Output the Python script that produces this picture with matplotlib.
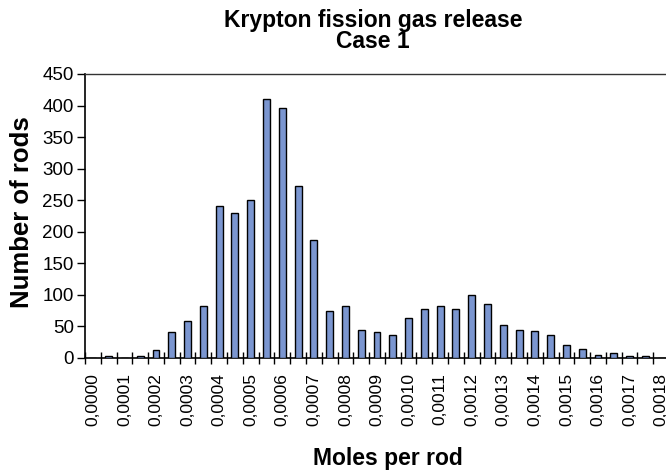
import matplotlib
matplotlib.use("Agg")
import matplotlib.pyplot as plt
import numpy as np

plt.rcParams['font.family'] = ['Liberation Sans', 'DejaVu Sans']

# ── Data ──────────────────────────────────────────────────────────────────────
# 37 bins of 0.00005 mol; every second bin is labelled
bin_starts = [i * 0.00005 for i in range(37)]
counts = [0, 3, 0, 3, 12, 41, 58, 83, 241, 230, 250, 411, 396, 273, 187,
          75, 82, 44, 41, 36, 63, 77, 83, 77, 100, 85, 53, 44, 42, 36,
          20, 14, 5, 8, 3, 3, 0]
tick_labels = [f"{i * 0.0001:.4f}".replace(".", ",") for i in range(19)]
y_ticks = list(range(0, 451, 50))

# ── Plot ───────────────────────────────────────────────────────────────────────
W, H = 666, 472
fig = plt.figure(figsize=(W / 100, H / 100), dpi=100)
ax = fig.add_axes([85 / W, (H - 358) / H, (669 - 85) / W, (358 - 74) / H])

x = np.arange(len(counts))
ax.bar(x, counts, width=0.44, color="#7b96d0", edgecolor="black", linewidth=1.0,
       zorder=3)

ax.set_xlim(-0.5, len(counts) - 0.5)
ax.set_ylim(0, 450)
ax.set_yticks(y_ticks)
ax.tick_params(axis="y", labelsize=13.5, length=6, width=1, direction="out", pad=2)

# bin boundaries get tick marks, every second bin centre gets a label
ax.set_xticks(np.arange(len(counts) + 1) - 0.5)
ax.set_xticklabels([])
ax.tick_params(axis="x", which="major", length=9, width=1, direction="inout")
ax.set_xticks(x[::2], minor=True)
ax.set_xticklabels(tick_labels, minor=True, rotation=90, fontsize=12.5)
ax.tick_params(axis="x", which="minor", length=0, pad=11)

for s in ("left", "bottom"):
    ax.spines[s].set_color("black")
    ax.spines[s].set_linewidth(1.2)
ax.spines["top"].set_color("#333333")
ax.spines["top"].set_linewidth(1.0)
ax.spines["right"].set_visible(False)

fig.text(22 / W, 1 - 212 / H, "Number of rods", fontsize=18.5, fontweight="bold",
         rotation=90, ha="center", va="center")
fig.text(388 / W, 1 - 465 / H, "Moles per rod", fontsize=16.5, fontweight="bold",
         ha="center", va="baseline")
fig.text(373 / W, 1 - 27 / H, "Krypton fission gas release", fontsize=16.5,
         fontweight="bold", ha="center", va="baseline")
fig.text(373 / W, 1 - 48 / H, "Case 1", fontsize=16.5,
         fontweight="bold", ha="center", va="baseline")

fig.savefig("out.png", dpi=100)
